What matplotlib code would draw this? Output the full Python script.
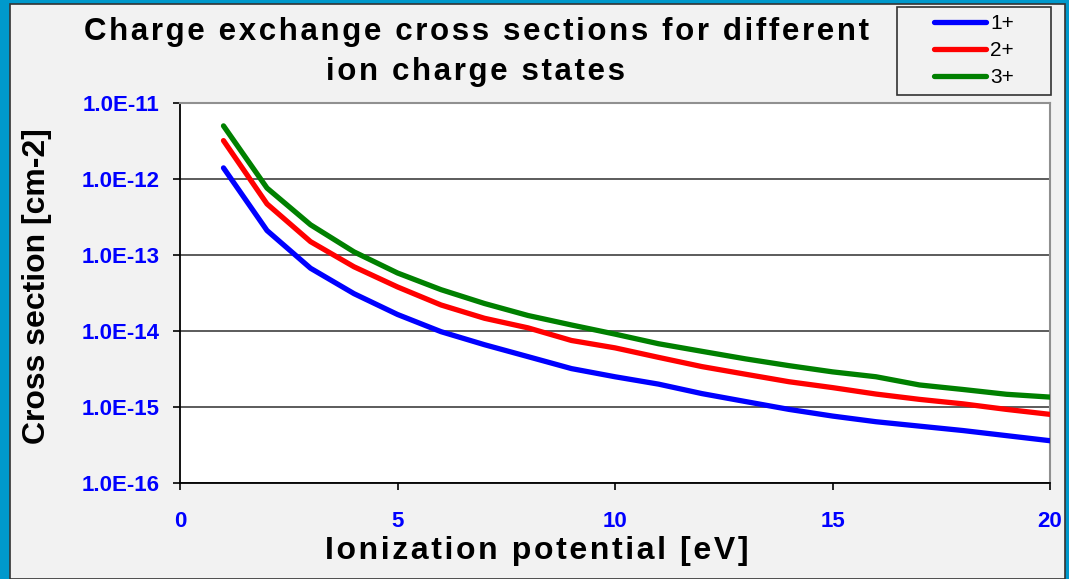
import numpy as np
import matplotlib
matplotlib.use("Agg")
import matplotlib.pyplot as plt
from matplotlib.patches import Rectangle
from matplotlib.ticker import FixedLocator, FuncFormatter, NullLocator

plt.rcParams["font.family"] = ["Liberation Sans", "DejaVu Sans"]

# ionization potential [eV]
energy = [1, 2, 3, 4, 5, 6, 7, 8, 9, 10, 11, 12, 13, 14, 15, 16, 17, 18, 19, 20]

# cross sections [cm-2] per charge state
sigma_1 = [1.4e-12, 2.1e-13, 6.7e-14, 3.1e-14, 1.65e-14, 9.8e-15, 6.6e-15, 4.6e-15,
           3.2e-15, 2.5e-15, 2.0e-15, 1.5e-15, 1.18e-15, 9.3e-16, 7.6e-16, 6.4e-16,
           5.6e-16, 4.9e-16, 4.2e-16, 3.6e-16]
sigma_2 = [3.2e-12, 4.7e-13, 1.5e-13, 7.0e-14, 3.8e-14, 2.2e-14, 1.47e-14, 1.1e-14,
           7.5e-15, 6.0e-15, 4.5e-15, 3.4e-15, 2.7e-15, 2.15e-15, 1.8e-15, 1.48e-15,
           1.26e-15, 1.1e-15, 9.3e-16, 8.0e-16]
sigma_3 = [5.0e-12, 7.6e-13, 2.5e-13, 1.1e-13, 5.8e-14, 3.5e-14, 2.3e-14, 1.6e-14,
           1.2e-14, 9.1e-15, 6.8e-15, 5.4e-15, 4.3e-15, 3.5e-15, 2.9e-15, 2.5e-15,
           1.95e-15, 1.7e-15, 1.47e-15, 1.35e-15]

labels = ["1+", "2+", "3+"]
colors = ["#0000FF", "#FF0000", "#008000"]

y_ticks = [1e-16, 1e-15, 1e-14, 1e-13, 1e-12, 1e-11]
x_ticks = [0, 5, 10, 15, 20]

title_lines = ["Charge exchange cross sections for different", "ion charge states"]
xlabel = "Ionization potential [eV]"
ylabel = "Cross section [cm-2]"


def spaced(s, sep="\u200a"):
    # fake letter spacing with hair spaces
    return sep.join(s)


W, H = 1069, 579
fig = plt.figure(figsize=(W / 100, H / 100), dpi=100)
fig.patch.set_facecolor("#0099CC")

# grey panel
fig.patches.append(Rectangle((10 / W, 0), 1055 / W, 1 - 4 / H,
                             transform=fig.transFigure, facecolor="#F2F2F2",
                             edgecolor="#333333", lw=1.2, zorder=-5))

ax = fig.add_axes([180 / W, 1 - 483 / H, 870 / W, 380 / H])
ax.set_facecolor("white")

lines = []
for s, lab, c in zip([sigma_1, sigma_2, sigma_3], labels, colors):
    ln, = ax.plot(energy, s, color=c, lw=3.8, label=lab, solid_capstyle="round",
                  solid_joinstyle="round", zorder=3)
    lines.append(ln)

ax.set_yscale("log")
ax.set_xlim(0, 20)
ax.set_ylim(1e-16, 1e-11)
ax.yaxis.set_major_locator(FixedLocator(y_ticks))
ax.yaxis.set_minor_locator(NullLocator())
ax.yaxis.set_major_formatter(FuncFormatter(lambda v, p: f"{v:.1E}"))
ax.set_xticks(x_ticks)

ax.grid(axis="y", color="#404040", lw=1.2)
ax.grid(axis="x", visible=False)
ax.set_axisbelow(True)

for side in ["left", "bottom"]:
    ax.spines[side].set_color("black")
    ax.spines[side].set_linewidth(1.3)
for side in ["top", "right"]:
    ax.spines[side].set_color("#909090")
    ax.spines[side].set_linewidth(1.5)

ax.tick_params(axis="y", direction="out", length=5, width=1.2, pad=10,
               labelsize=16, labelcolor="#0000FF")
ax.tick_params(axis="x", direction="out", length=5, width=1.2, pad=15,
               labelsize=16, labelcolor="#0000FF")
for t in ax.get_xticklabels() + ax.get_yticklabels():
    t.set_fontweight("bold")

fig.text(476 / W, 1 - 32 / H, spaced(title_lines[0]), ha="center", va="center",
         fontsize=22.5, fontweight="bold")
fig.text(476 / W, 1 - 72 / H, spaced(title_lines[1]), ha="center", va="center",
         fontsize=22.5, fontweight="bold")
fig.text(537 / W, 1 - 551 / H, spaced(xlabel), ha="center",
         va="center", fontsize=23, fontweight="bold")
fig.text(37 / W, 1 - 286 / H, ylabel, ha="center", va="center",
         rotation=90, fontsize=23, fontweight="bold")

# legend
fig.patches.append(Rectangle((897 / W, 1 - 95 / H), 154 / W, 88 / H,
                             transform=fig.transFigure, facecolor="#F2F2F2",
                             edgecolor="#333333", lw=1.2, zorder=1))
leg = fig.legend(handles=lines, loc="center", bbox_to_anchor=(974 / W, 1 - 50.5 / H),
                 frameon=False, fontsize=15, handlelength=2.5, handletextpad=0.2,
                 labelspacing=0.38, borderpad=0)

fig.savefig("out.png", dpi=100, facecolor=fig.get_facecolor())
